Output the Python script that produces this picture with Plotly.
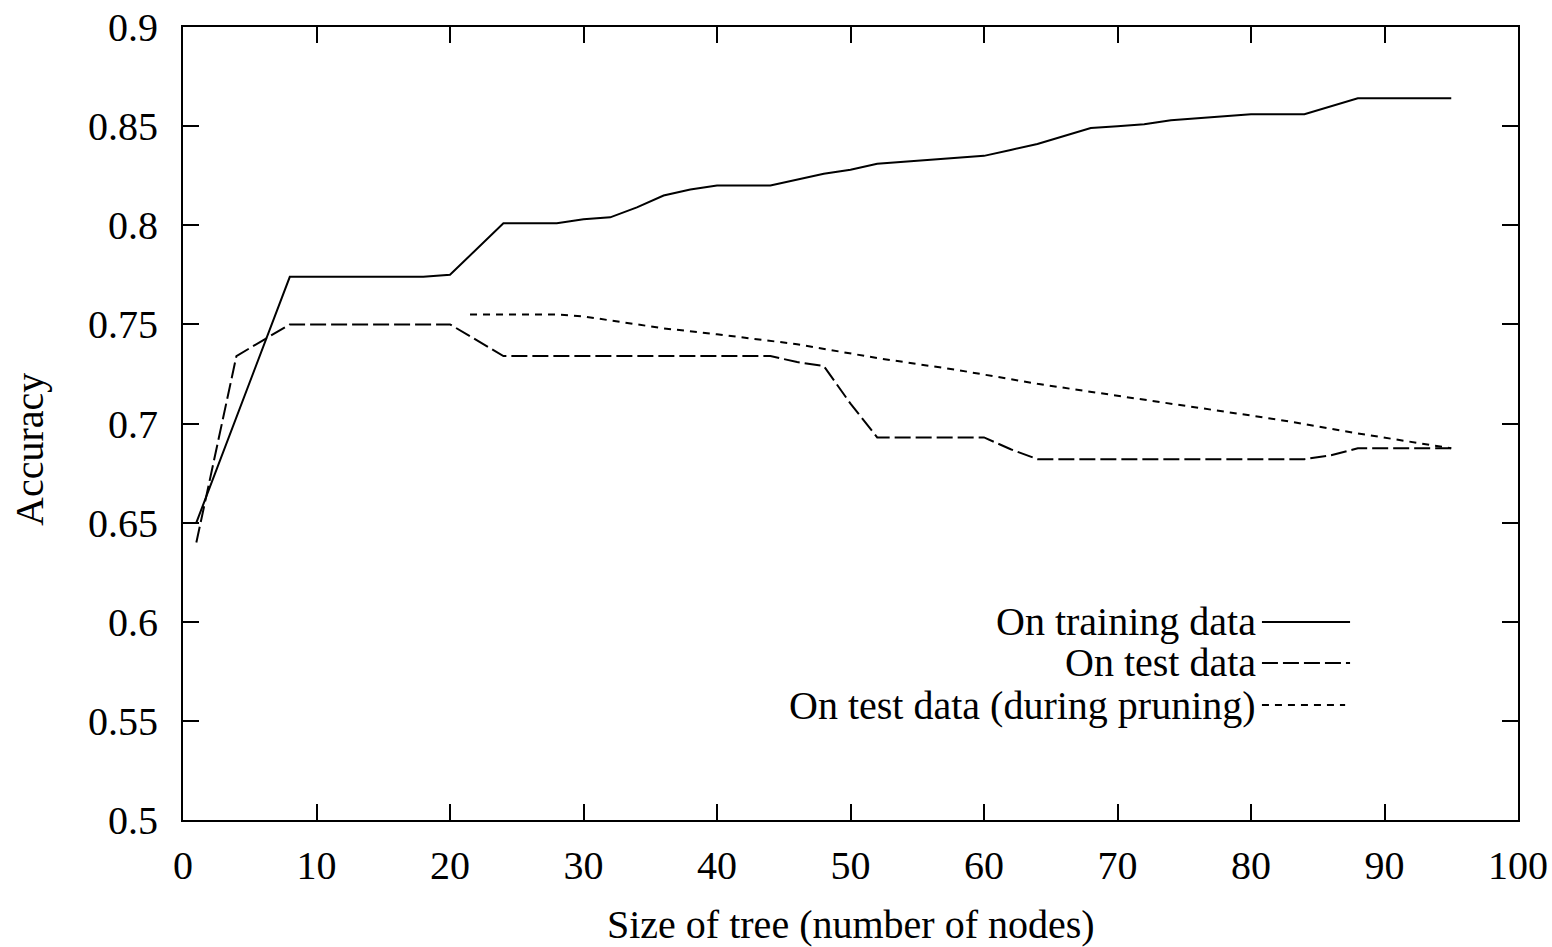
import plotly.graph_objects as go

# ---- data ----
train_x = [1, 8, 18, 20, 24, 28, 30, 32, 34, 36, 38, 40, 44, 46, 48, 50, 52, 54, 56, 58, 60,
           62, 64, 66, 68, 70, 72, 74, 76, 78, 80, 84, 86, 88, 95]
train_y = [0.650, 0.774, 0.774, 0.775, 0.801, 0.801, 0.803, 0.804, 0.809, 0.815, 0.818, 0.820,
           0.820, 0.823, 0.826, 0.828, 0.831, 0.832, 0.833, 0.834, 0.835, 0.838, 0.841, 0.845,
           0.849, 0.850, 0.851, 0.853, 0.854, 0.855, 0.856, 0.856, 0.860, 0.864, 0.864]

test_x = [1, 4, 5, 6, 8, 20, 22, 24, 44, 46, 48, 50, 52, 60, 62, 64, 84, 86, 88, 95]
test_y = [0.640, 0.734, 0.738, 0.742, 0.750, 0.750, 0.742, 0.734, 0.734, 0.731, 0.729, 0.710,
          0.693, 0.693, 0.687, 0.682, 0.682, 0.684, 0.6875, 0.6875]

prune_x = [21.5, 28, 30, 32, 36, 40, 46, 52, 58, 64, 70, 76, 82, 88, 95]
prune_y = [0.755, 0.755, 0.754, 0.752, 0.748, 0.745, 0.740, 0.733, 0.727, 0.720, 0.714, 0.708,
           0.702, 0.695, 0.6875]

series_names = ["On training data", "On test data", "On test data (during pruning)"]
x_ticks = [0, 10, 20, 30, 40, 50, 60, 70, 80, 90, 100]
y_ticks = [0.5, 0.55, 0.6, 0.65, 0.7, 0.75, 0.8, 0.85, 0.9]
y_tick_labels = ["0.5", "0.55", "0.6", "0.65", "0.7", "0.75", "0.8", "0.85", "0.9"]

FONT = "Liberation Serif"
FS = 40
dashes = ["solid", "16px,5px", "7px,6px"]

fig = go.Figure()
for xs, ys, name, d in zip([train_x, test_x, prune_x], [train_y, test_y, prune_y], series_names, dashes):
    fig.add_trace(go.Scatter(x=xs, y=ys, mode="lines", name=name,
                             line=dict(color="black", width=2, dash=d), showlegend=False))

axis_common = dict(showline=True, linecolor="black", linewidth=2, mirror="ticks",
                   ticks="inside", ticklen=16, tickwidth=2, tickcolor="black",
                   showgrid=False, zeroline=False, automargin=False,
                   tickfont=dict(family=FONT, size=FS, color="black"))

fig.update_xaxes(range=[0, 100], tickvals=x_ticks, ticklabelstandoff=9, **axis_common)
fig.update_yaxes(range=[0.5, 0.9], tickvals=y_ticks, ticktext=y_tick_labels,
                 ticklabelstandoff=15, **axis_common)

annotations = [
    dict(text="Size of tree (number of nodes)", x=0.5, y=0, xref="paper", yref="paper",
         xanchor="center", yanchor="middle", yshift=-104, showarrow=False,
         font=dict(family=FONT, size=FS, color="black")),
    dict(text="Accuracy", x=0, y=0.4666, xref="paper", yref="paper", textangle=-90,
         xanchor="center", yanchor="middle", xshift=-153, showarrow=False,
         font=dict(family=FONT, size=FS, color="black")),
]
shapes = []
legend_y = [0.2497, 0.198, 0.145]
legend_x1 = [0.8742, 0.8742, 0.8705]
for name, yy, d, x1 in zip(series_names, legend_y, dashes, legend_x1):
    annotations.append(dict(text=name, x=0.8052, y=yy, xref="paper", yref="paper",
                            xanchor="right", yanchor="middle", showarrow=False,
                            font=dict(family=FONT, size=FS, color="black")))
    shapes.append(dict(type="line", xref="paper", yref="paper", x0=0.8082, x1=x1,
                       y0=yy, y1=yy, line=dict(color="black", width=2, dash=d)))

fig.update_layout(width=1552, height=947, margin=dict(l=183, r=34, t=27, b=127),
                  paper_bgcolor="white", plot_bgcolor="white",
                  annotations=annotations, shapes=shapes,
                  font=dict(family=FONT, size=FS, color="black"))

# remove the default page margin so the figure sits at the window's top-left corner
fig.write_html("out.html", config={"displayModeBar": False},
               post_script="document.body.style.margin='0';document.body.style.overflow='hidden';")
